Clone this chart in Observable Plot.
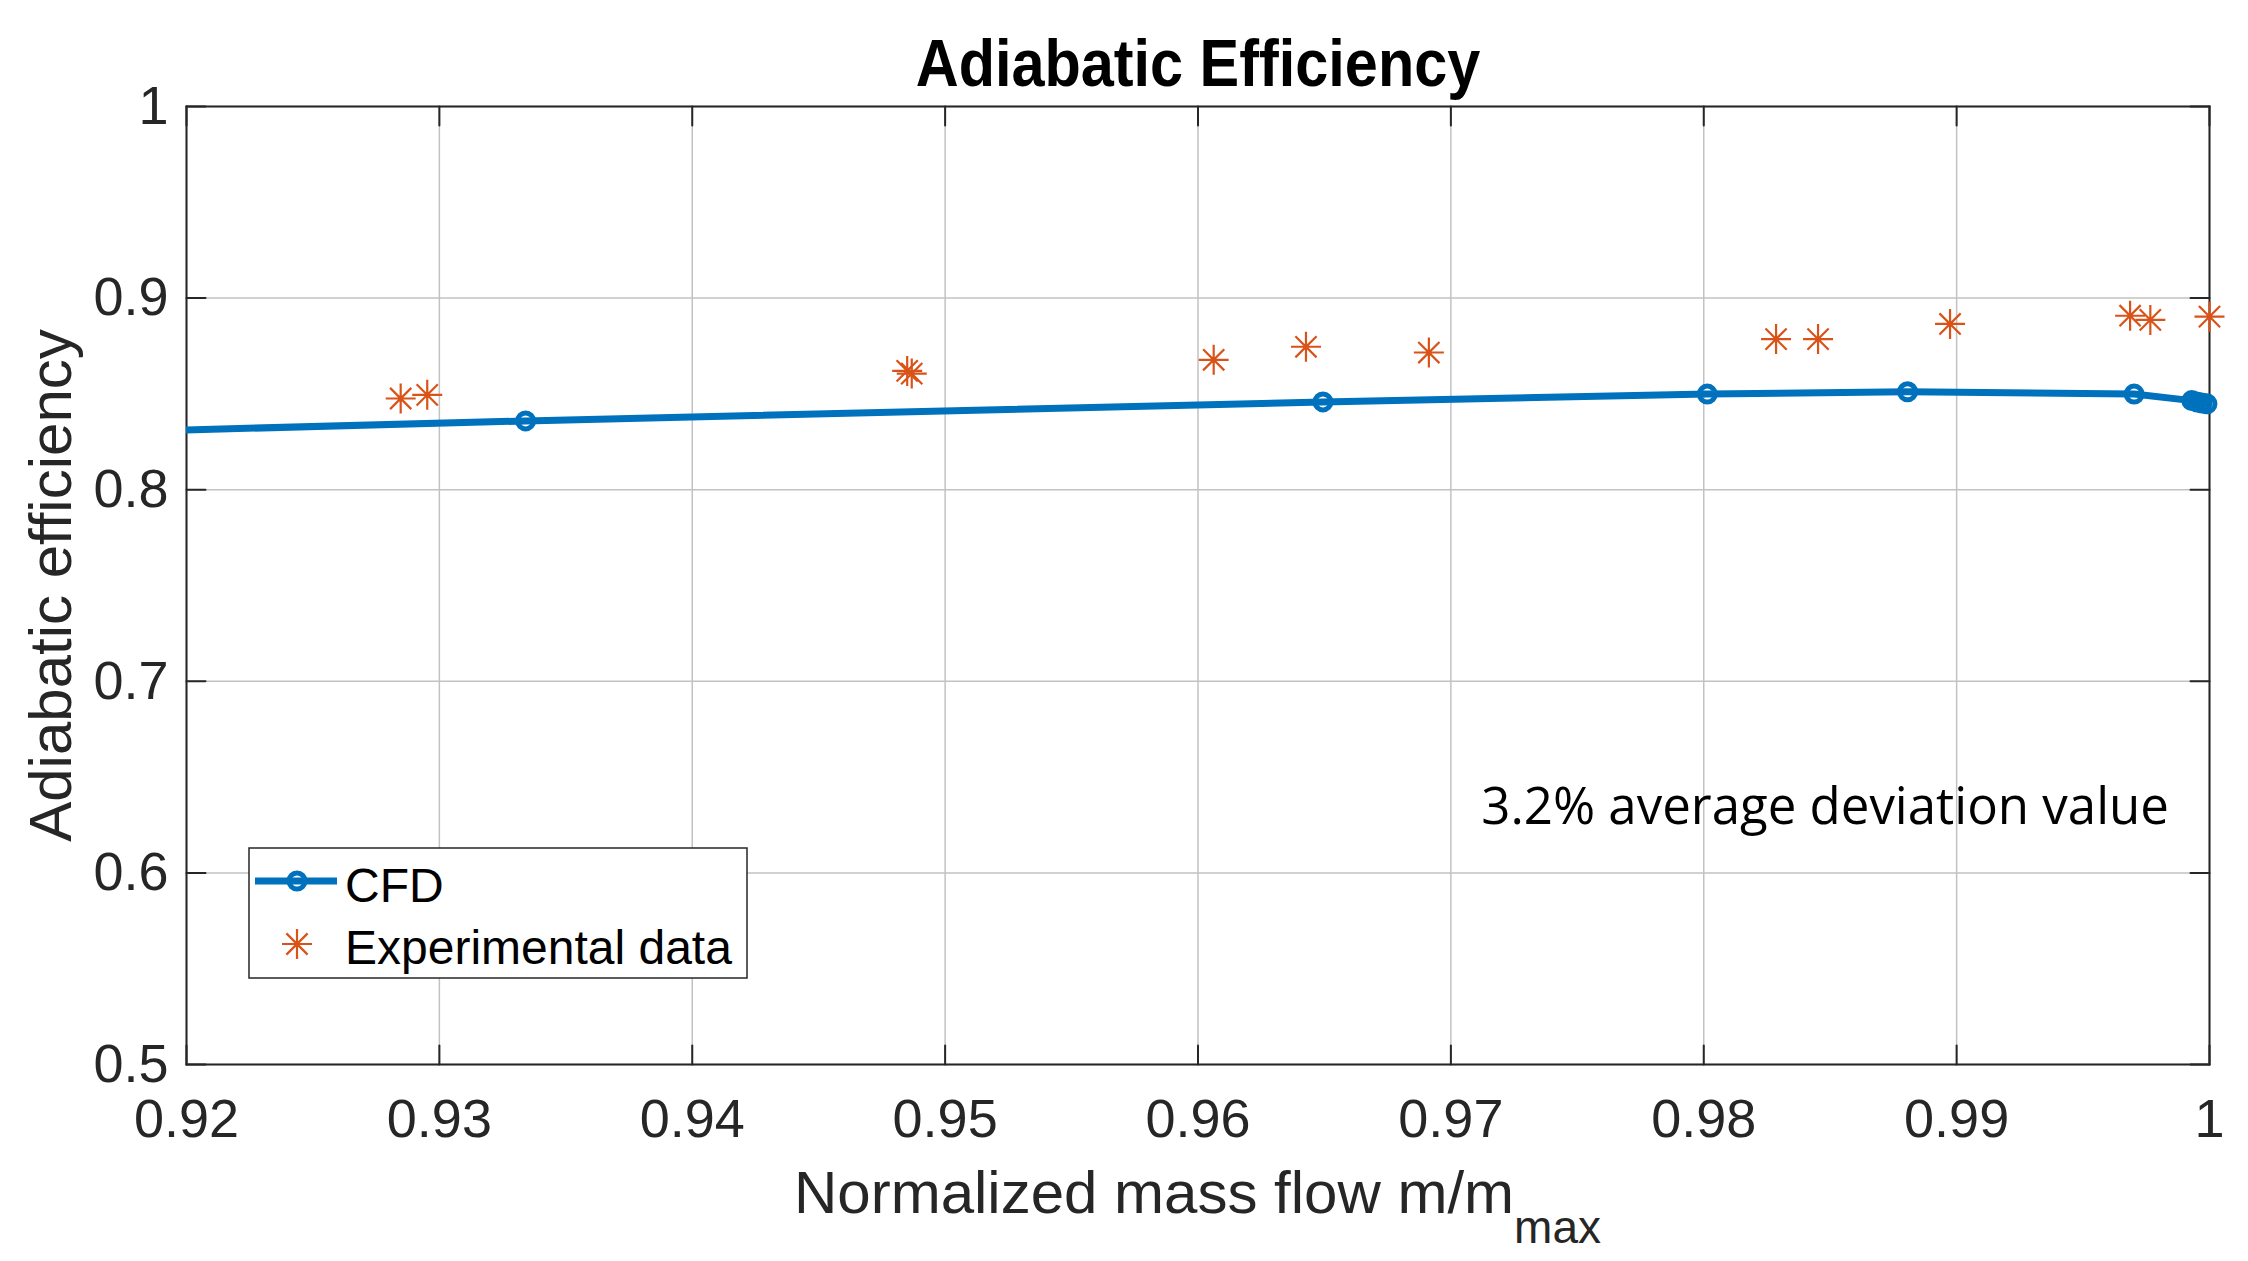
<!DOCTYPE html>
<html>
<head>
<meta charset="utf-8">
<script src="https://cdn.jsdelivr.net/npm/d3@7"></script>
<script src="https://cdn.jsdelivr.net/npm/@observablehq/plot@0.6"></script>
<style>
  body { margin: 0; background: #fff; }
  #wrap { width: 2248px; height: 1261px; position: relative; overflow: hidden; background: #fff; }
  #title { position: relative; width: 2248px; height: 100px; }
  #title span {
    position: absolute; left: 1197.5px; top: 30px;
    transform: translateX(-50%) scaleX(0.9);
    font: bold 66px "Liberation Sans", Arial, Helvetica, sans-serif;
    line-height: 66px; white-space: nowrap; color: #000;
  }
</style>
</head>
<body>
<div id="wrap">
  <div id="title"><span id="titleText"></span></div>
  <div id="chart"></div>
</div>
<script>
// ---- data ----
const titleText = "Adiabatic Efficiency";
const xLabelMain = "Normalized mass flow m/m";
const xLabelSub = "max";
const yLabel = "Adiabatic efficiency";
const seriesNames = ["CFD", "Experimental data"];
const noteText = "3.2% average deviation value";
const noteFlow = 0.9712;
const noteEff = 0.6254;

const xDomain = [0.92, 1];
const yDomain = [0.5, 1];
const xTicks = [0.92, 0.93, 0.94, 0.95, 0.96, 0.97, 0.98, 0.99, 1];
const xTickLabels = ["0.92", "0.93", "0.94", "0.95", "0.96", "0.97", "0.98", "0.99", "1"];
const yTicks = [0.5, 0.6, 0.7, 0.8, 0.9, 1];
const yTickLabels = ["0.5", "0.6", "0.7", "0.8", "0.9", "1"];

// CFD (first point lies left of the visible range)
const cfdFlow = [0.91, 0.93341, 0.96494, 0.98014, 0.98806, 0.99702, 0.9993, 0.9995, 0.9997, 0.9999];
const cfdEff  = [0.8277, 0.8359, 0.8458, 0.8499, 0.8511, 0.8499, 0.8465, 0.8458, 0.8452, 0.8448];

// Experimental data
const expFlow = [0.92847, 0.92952, 0.94850, 0.94868, 0.96062, 0.96427, 0.96913, 0.98286, 0.98452, 0.98974, 0.99686, 0.99766, 1.0];
const expEff  = [0.8476, 0.8495, 0.8620, 0.8606, 0.8678, 0.8746, 0.8716, 0.8786, 0.8786, 0.8865, 0.8908, 0.8886, 0.8903];

// ---- build ----
const cfdColor = "#0072BD";
const expColor = "#D95319";
const axisColor = "#262626";
const gridColor = "#c2c2c2";
const fontFamily = '"Liberation Sans", Arial, Helvetica, sans-serif';

document.getElementById("titleText").textContent = titleText;

const cfd = cfdFlow.map((x, i) => ({x, y: cfdEff[i]}));
const exp = expFlow.map((x, i) => ({x, y: expEff[i]}));
const note = [{x: noteFlow, y: noteEff, text: noteText}];

const star = {
  draw(ctx, size) {
    const r = Math.sqrt(size / Math.PI);
    const d = r * Math.SQRT1_2;
    ctx.moveTo(-r, 0); ctx.lineTo(r, 0);
    ctx.moveTo(0, -r); ctx.lineTo(0, r);
    ctx.moveTo(-d, -d); ctx.lineTo(d, d);
    ctx.moveTo(-d, d); ctx.lineTo(d, -d);
  }
};
const tickShape = { draw(ctx, l) { ctx.moveTo(0, 0); ctx.lineTo(0, -l); } };
const tickLen = 19;
const starR = 15;
const circR = 8;

const plot = Plot.plot({
  width: 2248,
  height: 1161,
  marginLeft: 186,
  marginRight: 39,
  marginTop: 6,
  marginBottom: 197,
  style: { fontFamily, background: "#fff", overflow: "visible" },
  x: { domain: xDomain },
  y: { domain: yDomain },
  marks: [
    Plot.gridX(xTicks, { stroke: gridColor, strokeOpacity: 1, strokeWidth: 1.5 }),
    Plot.gridY(yTicks, { stroke: gridColor, strokeOpacity: 1, strokeWidth: 1.5 }),
    Plot.frame({ stroke: axisColor, strokeWidth: 2 }),
    Plot.vector(xTicks, { x: d => d, frameAnchor: "bottom", rotate: 0, length: tickLen, anchor: "start", shape: tickShape, stroke: axisColor, strokeWidth: 2 }),
    Plot.vector(xTicks, { x: d => d, frameAnchor: "top", rotate: 180, length: tickLen, anchor: "start", shape: tickShape, stroke: axisColor, strokeWidth: 2 }),
    Plot.vector(yTicks, { y: d => d, frameAnchor: "left", rotate: 90, length: tickLen, anchor: "start", shape: tickShape, stroke: axisColor, strokeWidth: 2 }),
    Plot.vector(yTicks, { y: d => d, frameAnchor: "right", rotate: -90, length: tickLen, anchor: "start", shape: tickShape, stroke: axisColor, strokeWidth: 2 }),
    Plot.axisX(xTicks, { tickSize: 0, tickPadding: 34, fontSize: 54, fill: axisColor, label: null,
      tickFormat: d => xTickLabels[xTicks.indexOf(d)] }),
    Plot.axisY(yTicks, { tickSize: 0, tickPadding: 18, fontSize: 54, fill: axisColor, label: null,
      tickFormat: d => yTickLabels[yTicks.indexOf(d)] }),
    Plot.text([yLabel], { frameAnchor: "left", rotate: -90, dx: -116, textAnchor: "middle", lineAnchor: "bottom",
      fontSize: 60, fill: axisColor }),
    Plot.line(cfd, { x: "x", y: "y", stroke: cfdColor, strokeWidth: 7, clip: true }),
    Plot.dot(cfd, { x: "x", y: "y", filter: d => d.x >= xDomain[0], r: circR, stroke: cfdColor, strokeWidth: 5, fill: "none" }),
    Plot.dot(exp, { x: "x", y: "y", symbol: star, r: starR, stroke: expColor, strokeWidth: 2.2, fill: "none" }),
    Plot.text(note, { x: "x", y: "y", text: "text", textAnchor: "start", lineAnchor: "bottom",
      fontSize: 51, fontFamily: '"Open Sans", "Noto Sans", sans-serif', fill: "#000" })
  ]
});

document.getElementById("chart").appendChild(plot);

// x-axis label with subscript
const svg = d3.select(plot);
const xs = plot.scale("x");
const cx = (xs.range[0] + xs.range[1]) / 2;
const lab = svg.append("text")
  .attr("x", cx).attr("y", 1113)
  .attr("text-anchor", "middle")
  .attr("font-family", fontFamily)
  .attr("font-size", 60)
  .attr("fill", axisColor);
lab.append("tspan").text(xLabelMain);
lab.append("tspan").attr("font-size", 46).attr("dy", 30).text(xLabelSub);

// legend inside the axes
const lg = svg.append("g").attr("font-family", fontFamily).attr("font-size", 48).attr("text-anchor", "start");
lg.append("rect").attr("x", 249).attr("y", 748).attr("width", 498).attr("height", 130)
  .attr("fill", "#fff").attr("stroke", axisColor).attr("stroke-width", 1.5);
lg.append("line").attr("x1", 255).attr("x2", 337).attr("y1", 781).attr("y2", 781)
  .attr("stroke", cfdColor).attr("stroke-width", 7);
lg.append("circle").attr("cx", 297).attr("cy", 781).attr("r", circR)
  .attr("fill", "none").attr("stroke", cfdColor).attr("stroke-width", 5);
const sp = d3.path();
star.draw(sp, Math.PI * starR * starR);
lg.append("path").attr("transform", "translate(297,844)").attr("d", sp.toString())
  .attr("fill", "none").attr("stroke", expColor).attr("stroke-width", 2.2);
lg.append("text").attr("x", 345).attr("y", 802).attr("fill", "#000").attr("text-anchor", "start").text(seriesNames[0]);
lg.append("text").attr("x", 345).attr("y", 864).attr("fill", "#000").attr("text-anchor", "start").text(seriesNames[1]);
</script>
</body>
</html>
